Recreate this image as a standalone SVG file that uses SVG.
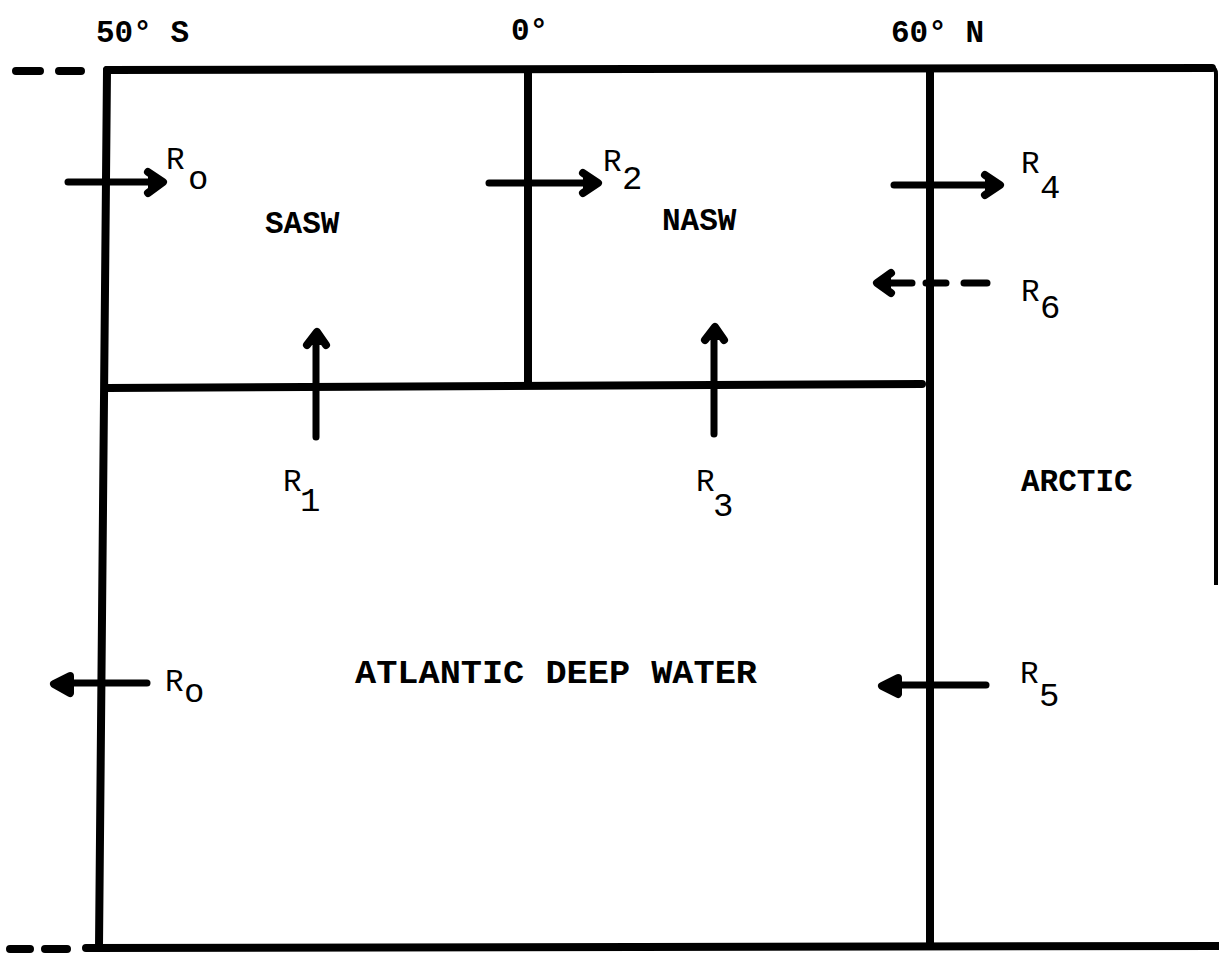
<svg xmlns="http://www.w3.org/2000/svg" width="1219" height="953" viewBox="0 0 1219 953">
<style>
.ln{stroke:#000;stroke-width:8;fill:none;stroke-linecap:round}
.thin{stroke:#000;stroke-width:4;fill:none}
.ar{stroke:#000;stroke-width:7;fill:none;stroke-linecap:round;stroke-linejoin:round}
.hd{stroke:#000;stroke-width:8;fill:#000;stroke-linecap:round;stroke-linejoin:round}
.lb{font-family:"Liberation Mono","Courier New",monospace;font-weight:bold;font-size:31px;fill:#000}
.big{font-size:34px}
.rl{font-family:"Liberation Mono","Courier New",monospace;font-size:31px;fill:#000}
.sb{font-family:"Liberation Mono","Courier New",monospace;font-size:34px;fill:#000}
</style>
<rect width="1219" height="953" fill="#fff"/>
<g id="boundaries">
  <path class="ln" d="M107,70 L1212,68"/>
  <path class="ln" d="M16,71 H40 M59,71 H81"/>
  <path class="thin" d="M1212,68 Q1216,68 1216,74 V585"/>
  <path class="ln" d="M107,70 L99,947"/>
  <path class="ln" d="M86,948 L1219,946"/>
  <path class="ln" d="M10,949 H30 M45,949 H67"/>
  <path class="ln" d="M528,72 V385"/>
  <path class="ln" d="M107,388 L922,384"/>
  <path class="ln" d="M930,70 V946"/>
</g>
<g id="latitudes">
  <text class="lb" x="96" y="42">50° S</text>
  <text class="lb" x="511" y="40">0°</text>
  <text class="lb" x="891" y="42">60° N</text>
</g>
<g id="node-sasw"><text class="lb" x="265" y="233">SASW</text></g>
<g id="node-nasw"><text class="lb" x="662" y="230">NASW</text></g>
<g id="node-arctic"><text class="lb" x="1021" y="491">ARCTIC</text></g>
<g id="node-adw"><text class="lb big" x="355" y="683" textLength="402" lengthAdjust="spacingAndGlyphs">ATLANTIC DEEP WATER</text></g>
<g id="connectors">
  <g id="r0-top">
    <path class="ar" d="M68,182 H158"/>
    <path class="hd" d="M148,172 L163,182 L148,193"/>
    <text class="rl" x="166" y="169">R</text><text class="sb" x="188" y="189">o</text>
  </g>
  <g id="r2">
    <path class="ar" d="M489,183 H593"/>
    <path class="hd" d="M583,173 L598,183 L583,193"/>
    <text class="rl" x="603" y="171">R</text><text class="sb" x="622" y="189">2</text>
  </g>
  <g id="r4">
    <path class="ar" d="M894,185 H995"/>
    <path class="hd" d="M985,175 L1000,185 L985,195"/>
    <text class="rl" x="1021" y="173">R</text><text class="sb" x="1040" y="198">4</text>
  </g>
  <g id="r6">
    <path class="ar" d="M882,283 H912 M926,283 H946 M964,283 H987"/>
    <path class="hd" d="M891,273 L877,283 L891,293"/>
    <text class="rl" x="1021" y="301">R</text><text class="sb" x="1040" y="318">6</text>
  </g>
  <g id="r1">
    <path class="ar" d="M316,437 V337"/>
    <path class="hd" d="M307,345 L317,332 L326,345"/>
    <text class="rl" x="283" y="491">R</text><text class="sb" x="300" y="511">1</text>
  </g>
  <g id="r3">
    <path class="ar" d="M714,434 V332"/>
    <path class="hd" d="M705,340 L715,327 L724,340"/>
    <text class="rl" x="696" y="491">R</text><text class="sb" x="713" y="516">3</text>
  </g>
  <g id="r0-bottom">
    <path class="ar" d="M147,683 H62"/>
    <path class="hd" d="M70,676 L54,684 L70,693 Z"/>
    <text class="rl" x="165" y="691">R</text><text class="sb" x="184" y="702">o</text>
  </g>
  <g id="r5">
    <path class="ar" d="M986,685 H891"/>
    <path class="hd" d="M898,678 L882,686 L898,694 Z"/>
    <text class="rl" x="1020" y="683">R</text><text class="sb" x="1039" y="706">5</text>
  </g>
</g>
</svg>
